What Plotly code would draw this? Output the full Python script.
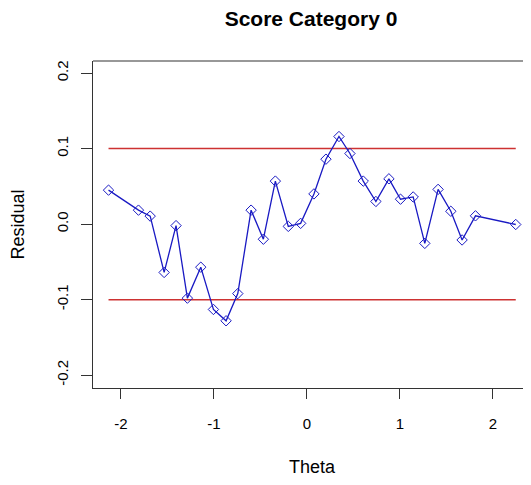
import plotly.graph_objects as go

theta = [-2.133, -1.811, -1.685, -1.535, -1.407, -1.285, -1.141, -1.005, -0.869, -0.743,
         -0.600, -0.468, -0.339, -0.200, -0.067, 0.076, 0.205, 0.345, 0.463, 0.606,
         0.742, 0.882, 1.007, 1.143, 1.268, 1.411, 1.548, 1.669, 1.813, 2.246]
residual = [0.045, 0.0185, 0.0106, -0.064, -0.002, -0.098, -0.057, -0.113, -0.128, -0.092,
            0.0185, -0.020, 0.057, -0.003, 0.001, 0.040, 0.086, 0.116, 0.0935, 0.057,
            0.030, 0.060, 0.033, 0.036, -0.0255, 0.046, 0.017, -0.021, 0.011, -0.0005]
bounds = [0.1, -0.1]
x_ticks = [-2, -1, 0, 1, 2]
x_labels = ["-2", "-1", "0", "1", "2"]
y_ticks = [-0.2, -0.1, 0.0, 0.1, 0.2]
y_labels = ["-0.2", "-0.1", "0.0", "0.1", "0.2"]

FONT = "Liberation Sans, Arial, sans-serif"
W, H = 523, 469
fig = go.Figure()
for b in bounds:
    fig.add_trace(go.Scatter(x=[min(theta), max(theta)], y=[b, b], mode="lines",
                             line=dict(color="rgb(205,50,50)", width=1.5),
                             showlegend=False, hoverinfo="skip"))
fig.add_trace(go.Scatter(x=theta, y=residual, mode="lines+markers",
                         line=dict(color="rgb(25,25,195)", width=1.3),
                         marker=dict(symbol="diamond-open", size=8,
                                     color="rgb(25,25,195)", line=dict(width=1)),
                         showlegend=False))

fig.update_layout(
    width=W, height=H,
    margin=dict(l=85, r=0, t=53, b=89, autoexpand=False),
    paper_bgcolor="white", plot_bgcolor="white",
    font=dict(family=FONT, size=15, color="black"),
    title=dict(text="<b>Score Category 0</b>", x=303/W, xanchor="center",
               y=1 - 11/H, yanchor="middle", font=dict(size=21)),
    shapes=[dict(type="line", xref="paper", yref="paper", x0=0, x1=1, y0=1, y1=1,
                 line=dict(color="#333", width=1.2))],
)
fig.update_xaxes(range=[-2.30, 2.41], tickvals=x_ticks, ticktext=x_labels,
                 ticks="outside", ticklen=10, automargin=False, ticklabelstandoff=12,
                 tickcolor="#333", showline=True, linecolor="#333", linewidth=1.2,
                 showgrid=False, zeroline=False,
                 title=dict(text="Theta", standoff=33))
fig.update_yaxes(range=[-0.217, 0.216], tickvals=y_ticks, ticktext=y_labels,
                 tickangle=-90, ticks="outside", ticklen=11, automargin=False,
                 ticklabelstandoff=7,
                 tickcolor="#333", showline=True, linecolor="#333", linewidth=1.2,
                 showgrid=False, zeroline=False,
                 title=dict(text="Residual", standoff=32))
fig.write_html("out.html")
